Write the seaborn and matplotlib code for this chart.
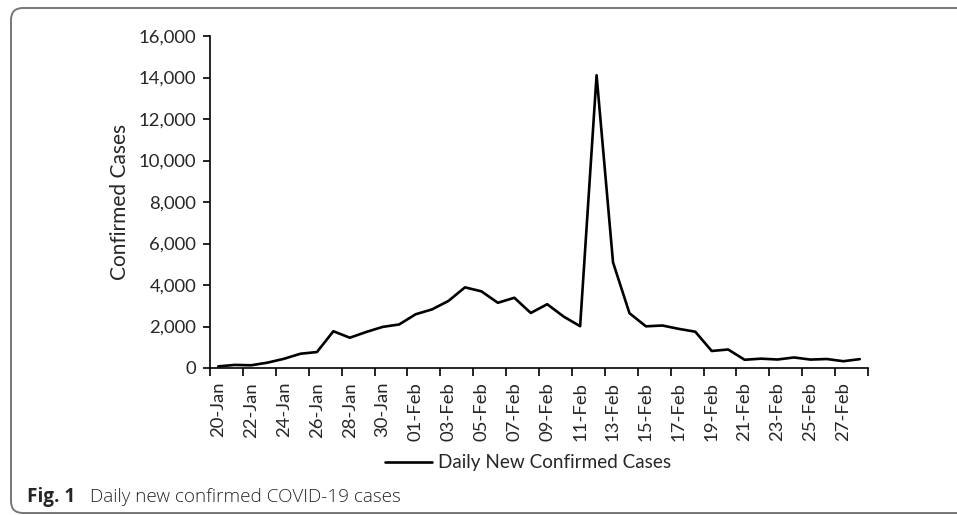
import pandas as pd
import numpy as np
import seaborn as sns
import matplotlib.pyplot as plt
from matplotlib.patches import FancyBboxPatch
from matplotlib.ticker import FuncFormatter, FixedLocator
plt.switch_backend('agg')

days = ['20-Jan', '21-Jan', '22-Jan', '23-Jan', '24-Jan', '25-Jan', '26-Jan', '27-Jan',
        '28-Jan', '29-Jan', '30-Jan', '31-Jan',
        '01-Feb', '02-Feb', '03-Feb', '04-Feb', '05-Feb', '06-Feb', '07-Feb', '08-Feb',
        '09-Feb', '10-Feb', '11-Feb', '12-Feb', '13-Feb', '14-Feb', '15-Feb', '16-Feb',
        '17-Feb', '18-Feb', '19-Feb', '20-Feb', '21-Feb', '22-Feb', '23-Feb', '24-Feb',
        '25-Feb', '26-Feb', '27-Feb', '28-Feb']
new_cases = [77, 149, 131, 259, 444, 688, 769, 1771, 1459, 1737, 1981, 2099,
             2589, 2825, 3235, 3887, 3694, 3143, 3385, 2652, 3073, 2478, 2015, 14108,
             5090, 2641, 2008, 2048, 1886, 1749, 820, 892, 397, 450, 409, 508,
             406, 433, 327, 427]
y_ticks = [0, 2000, 4000, 6000, 8000, 10000, 12000, 14000, 16000]

df = pd.DataFrame({'pos': np.arange(len(days)), 'Day': days, 'Cases': new_cases})
df['Series'] = 'Daily New Confirmed Cases'

sns.set_style('white')
plt.rcParams['font.family'] = ['Lato', 'DejaVu Sans']

fig = plt.figure(figsize=(9.57, 5.15), dpi=100)
ax = fig.add_axes([210 / 957, 1 - 368 / 515, (868 - 210) / 957, (368 - 36) / 515])

sns.lineplot(data=df, x='pos', y='Cases', hue='Series', palette=['black'],
             linewidth=1.9, ax=ax, legend=True)

ax.set_xlim(-0.5, len(days) - 0.5)
ax.set_ylim(0, 16000)
ax.set_yticks(y_ticks)
ax.yaxis.set_major_formatter(FuncFormatter(lambda v, p: '{:,.0f}'.format(v)))
ax.set_ylabel('Confirmed Cases', fontsize=15, labelpad=6)
ax.set_xlabel('')

# tick marks between categories, labels on every other category
ax.xaxis.set_major_locator(FixedLocator(np.arange(-0.5, len(days), 2)))
ax.xaxis.set_minor_locator(FixedLocator(np.arange(0, len(days), 2)))
ax.set_xticklabels([])
ax.set_xticklabels(days[::2], minor=True, rotation=90, fontsize=13.3)
ax.tick_params(axis='x', which='major', length=6, width=1.2, color='black', direction='out', bottom=True)
ax.tick_params(axis='x', which='minor', length=0, pad=10)
ax.tick_params(axis='y', which='major', length=5, width=1.2, color='black', direction='out', left=True,
               labelsize=13.3, pad=5)

for side in ['top', 'right']:
    ax.spines[side].set_visible(False)
for side in ['left', 'bottom']:
    ax.spines[side].set_color('black')
    ax.spines[side].set_linewidth(1.2)

handles, labels = ax.get_legend_handles_labels()
ax.get_legend().remove()
fig.legend(handles, labels, loc='center', bbox_to_anchor=(0.552, 0.101), frameon=False,
           fontsize=13.6, handlelength=2.5, handletextpad=0.3)

fig.text(27 / 957, 1 - 497 / 515, 'Fig. 1', fontsize=13.6, fontweight='bold', va='center',
         family=['Open Sans', 'DejaVu Sans'])
fig.text(90 / 957, 1 - 497 / 515, 'Daily new confirmed COVID-19 cases', fontsize=13.6, va='center',
         family=['Open Sans', 'DejaVu Sans'], fontweight='light')

box = FancyBboxPatch((11, 2), 1050, 505, boxstyle='round,pad=0,rounding_size=12',
                     transform=None, fill=False, edgecolor='#777777', linewidth=1.4)
fig.patches.append(box)

plt.savefig('out.png', dpi=100)
plt.close()
